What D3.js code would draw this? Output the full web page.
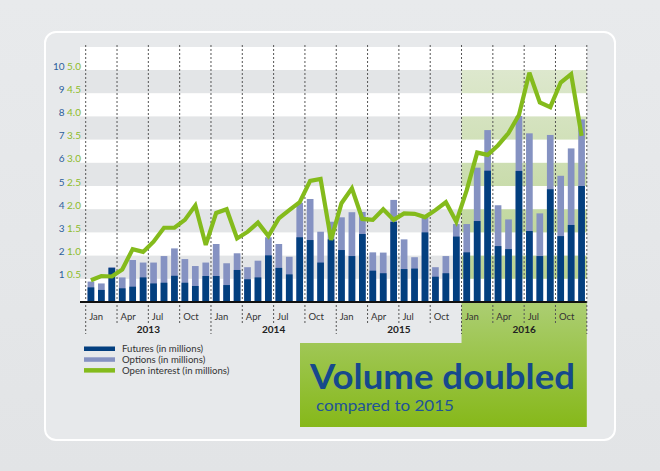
<!DOCTYPE html>
<html><head><meta charset="utf-8">
<script src="https://cdn.jsdelivr.net/npm/d3@7/dist/d3.min.js"></script>
<style>html,body{margin:0;padding:0;background:#e4e6e8;}svg{display:block;}</style>
</head><body>
<svg id="chart" width="660" height="471"></svg>
<script>
const years = ["2013","2014","2015","2016"];
const monthLabels = ["Jan","Apr","Jul","Oct"];
const futures = [0.63,0.52,1.47,0.59,0.66,1.06,0.80,0.83,1.13,0.83,0.69,1.12,
                 1.12,0.73,1.38,0.98,1.06,2.01,1.47,1.19,2.79,2.67,1.70,2.70,
                 2.24,1.98,2.93,1.35,1.24,3.45,1.42,1.44,3.00,1.09,1.24,2.82,
                 2.14,3.49,5.66,2.41,2.28,5.65,3.06,1.98,4.86,2.84,3.32,5.00];
const totals  = [0.88,0.80,1.50,1.06,1.81,1.70,1.70,1.98,2.31,1.85,1.55,1.70,
                 2.50,1.67,2.10,1.50,1.78,2.79,2.50,1.95,4.28,4.44,3.03,3.46,
                 3.65,3.87,3.88,2.14,2.13,4.40,2.70,1.93,3.68,1.50,1.98,3.36,
                 3.36,5.79,7.41,4.17,3.56,8.02,7.27,3.82,7.20,5.44,6.62,7.87];
const openInterest = [0.47,0.56,0.55,0.70,1.14,1.08,1.30,1.60,1.60,1.77,2.08,1.23,
                 1.92,2.00,1.37,1.51,1.71,1.42,1.80,1.98,2.15,2.61,2.65,1.34,
                 2.13,2.45,1.79,1.77,2.00,1.77,1.91,1.90,1.83,1.98,2.15,1.73,
                 2.41,3.22,3.17,3.38,3.64,4.03,4.94,4.30,4.20,4.73,4.91,3.58];
const leftTicks = [1,2,3,4,5,6,7,8,9,10];
const rightTicks = ["0.5","1.0","1.5","2.0","2.5","3.0","3.5","4.0","4.5","5.0"];
const legendItems = ["Futures (in millions)","Options (in millions)","Open interest (in millions)"];
const calloutTitle = "Volume doubled";
const calloutSub = "compared to 2015";

const svg = d3.select("#chart");
const FONT = "Lato, 'Open Sans', sans-serif";
const C = {fut:"#033f7f", opt:"#8592c2", oi:"#84bb1c", blue:"#2d5f9c"};

const x0 = 85.7, x1 = 586.8, plotLeft = 80, plotTop = 47, base = 302;
const months = d3.range(48);
const x = d3.scaleBand().domain(months).range([x0, x1]).paddingInner(0.36).paddingOuter(0.18);
const y = d3.scaleLinear().domain([0, 10]).range([base, 70]);
const yR = d3.scaleLinear().domain([0, 5]).range([base, 70]);
const step = x.step();
const green2016 = x0 + 36 * step;

const defs = svg.append("defs");
const bg = defs.append("linearGradient").attr("id","bgG").attr("x1",0).attr("y1",0).attr("x2",0).attr("y2",1);
bg.append("stop").attr("offset",0).attr("stop-color","#e8eaec");
bg.append("stop").attr("offset",1).attr("stop-color","#e2e4e6");
const gb = defs.append("linearGradient").attr("id","gBand").attr("gradientUnits","userSpaceOnUse")
  .attr("x1",0).attr("y1",plotTop).attr("x2",0).attr("y2",base);
gb.append("stop").attr("offset",0).attr("stop-color","#e1ead4");
gb.append("stop").attr("offset",1).attr("stop-color","#b5d08a");
const gc = defs.append("linearGradient").attr("id","gCall").attr("gradientUnits","userSpaceOnUse")
  .attr("x1",0).attr("y1",base).attr("x2",0).attr("y2",427);
gc.append("stop").attr("offset",0).attr("stop-color","#acce73");
gc.append("stop").attr("offset",1).attr("stop-color","#86b819");

svg.append("rect").attr("width",660).attr("height",471).attr("fill","url(#bgG)");
svg.append("rect").attr("x",45).attr("y",32).attr("width",570).attr("height",408).attr("rx",11)
  .attr("fill","#e7e9eb").attr("stroke","#ffffff").attr("stroke-width",2);

// plot background: white with alternating gray bands
svg.append("rect").attr("x",plotLeft).attr("y",plotTop).attr("width",x1-plotLeft).attr("height",base-plotTop).attr("fill","#ffffff");
const bands = [1,3,5,7,9];
svg.append("g").selectAll("rect").data(bands).join("rect")
  .attr("x",plotLeft).attr("y",d=>y(d+1)).attr("width",green2016-plotLeft).attr("height",d=>y(d)-y(d+1)).attr("fill","#e3e5e7");
svg.append("g").selectAll("rect").data(bands).join("rect")
  .attr("x",green2016).attr("y",d=>y(d+1)).attr("width",x1-green2016).attr("height",d=>y(d)-y(d+1)).attr("fill","url(#gBand)");

// green callout shape (axis area of 2016 + box)
svg.append("path").attr("fill","url(#gCall)")
  .attr("d",`M${green2016},${base} L${x1},${base} L${x1},427 L300,427 L300,343 L${green2016},343 Z`);

// bars
const gBars = svg.append("g");
gBars.selectAll("rect.opt").data(months).join("rect").attr("class","opt")
  .attr("x",i=>x(i)).attr("width",x.bandwidth()).attr("y",i=>y(totals[i])).attr("height",i=>y(0)-y(totals[i])).attr("fill",C.opt);
gBars.selectAll("rect.fut").data(months).join("rect").attr("class","fut")
  .attr("x",i=>x(i)).attr("width",x.bandwidth()).attr("y",i=>y(futures[i])).attr("height",i=>y(0)-y(futures[i])).attr("fill",C.fut);

// dashed quarter lines
const qs = d3.range(17);
svg.append("g").selectAll("line").data(qs).join("line")
  .attr("x1",q=>x0+q*3*step).attr("x2",q=>x0+q*3*step)
  .attr("y1",plotTop-2).attr("y2",q=>q%4===0?334:323)
  .attr("stroke","#555").attr("stroke-width",1).attr("stroke-dasharray","2,2");

// baseline
svg.append("line").attr("x1",plotLeft).attr("x2",x1).attr("y1",base).attr("y2",base).attr("stroke","#111").attr("stroke-width",2.2);

// open interest line
const line = d3.line().x(i=>x(i)+x.bandwidth()/2).y(i=>yR(openInterest[i])).curve(d3.curveLinear);
svg.append("path").datum(months).attr("d",line).attr("fill","none").attr("stroke",C.oi)
  .attr("stroke-width",4.2).attr("stroke-linejoin","miter").attr("stroke-miterlimit",3);

// left axis labels
const gy = svg.append("g").attr("font-family",FONT).attr("font-size",10);
gy.selectAll("text.l").data(leftTicks).join("text").attr("class","l")
  .attr("x",64.5).attr("y",d=>y(d)-0.5).attr("text-anchor","end").attr("fill",C.blue).text(d=>d);
gy.selectAll("text.r").data(leftTicks).join("text").attr("class","r")
  .attr("x",67).attr("y",d=>yR(d/2)-0.5).attr("fill","#8dbb2a").text((d,i)=>rightTicks[i]);

// month labels
const gx = svg.append("g").attr("font-family",FONT).attr("font-size",9.5).attr("fill","#333");
gx.selectAll("text").data(d3.range(16)).join("text")
  .attr("x",q=>x0+q*3*step+3.5).attr("y",320).text(q=>monthLabels[q%4]);
svg.append("g").attr("font-family",FONT).attr("font-size",10).attr("font-weight","bold").attr("fill","#222")
  .selectAll("text").data(years).join("text")
  .attr("x",(d,i)=>x0+(i*12+6)*step).attr("y",333).attr("text-anchor","middle").text(d=>d);

// legend
const lg = svg.append("g").attr("font-family",FONT).attr("font-size",9.6).attr("fill","#333");
const lcols = [C.fut, C.opt, C.oi];
lg.selectAll("rect").data(legendItems).join("rect")
  .attr("x",84).attr("y",(d,i)=>346.5+i*10.8).attr("width",31).attr("height",4.5).attr("fill",(d,i)=>lcols[i]);
lg.selectAll("text").data(legendItems).join("text")
  .attr("x",122).attr("y",(d,i)=>352+i*10.8).text(d=>d);

// callout text
svg.append("text").attr("x",310).attr("y",389).attr("font-family",FONT).attr("font-weight",700)
  .attr("font-size",34).attr("fill","#16498c").attr("textLength",265).attr("lengthAdjust","spacingAndGlyphs").text(calloutTitle);
svg.append("text").attr("x",316).attr("y",410.5).attr("font-family",FONT)
  .attr("font-size",16).attr("fill","#1f5396").attr("textLength",138).attr("lengthAdjust","spacingAndGlyphs").text(calloutSub);
</script>
</body></html>
